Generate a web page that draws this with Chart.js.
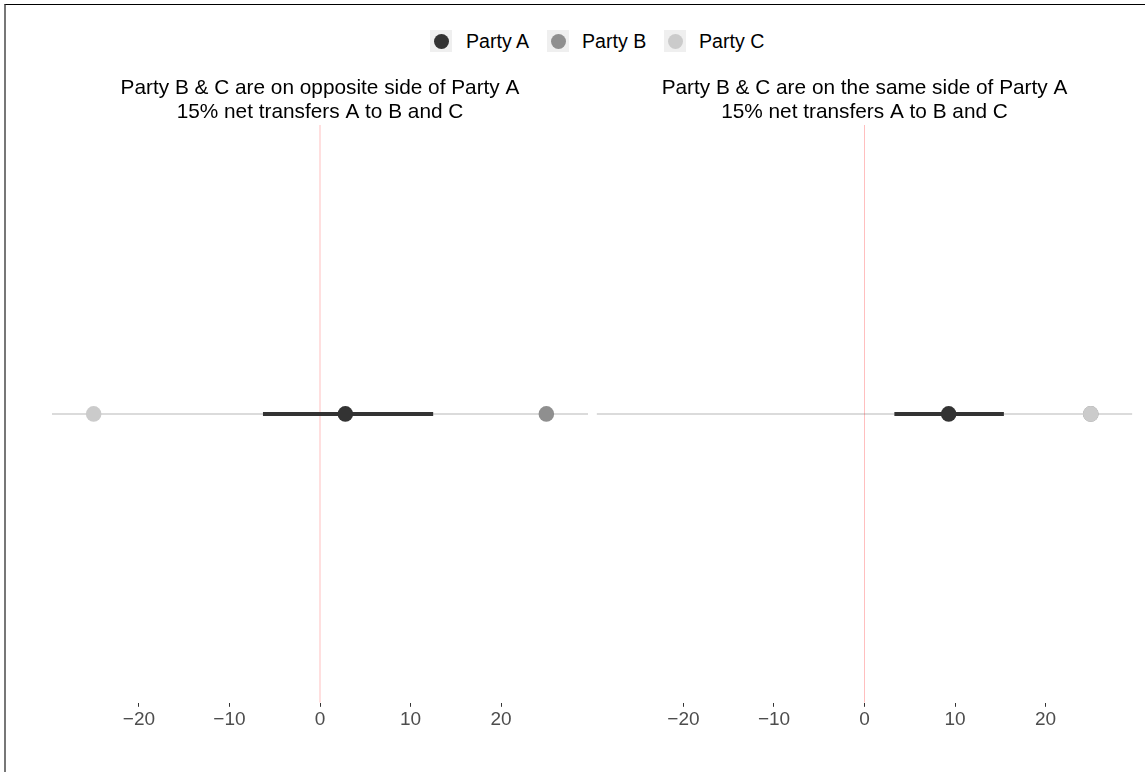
<!DOCTYPE html>
<html>
<head>
<meta charset="utf-8">
<script src="https://cdn.jsdelivr.net/npm/chart.js@4"></script>
<style>
  html, body { margin: 0; padding: 0; background: #fff; }
  body { width: 1145px; height: 772px; position: relative; overflow: hidden;
         font-family: "Liberation Sans", Arial, sans-serif; }
  .frame { position: absolute; left: 4px; top: 4px; right: -10px; bottom: -10px;
           border-top: 1px solid #000; border-left: 2px solid #777; }
  .panel { position: absolute; top: 0; height: 772px; }
  .key { position: absolute; top: 30px; width: 22px; height: 22px; background: #efefef; }
  .key span { position: absolute; left: 3.5px; top: 3.5px; width: 15px; height: 15px; border-radius: 50%; }
  .lab { position: absolute; top: 30px; height: 22px; line-height: 22px; font-size: 19.6px; color: #000; }
</style>
</head>
<body>
<div class="frame"></div>

<div class="key" style="left:430px"><span style="background:#333333"></span></div>
<div class="lab" style="left:466px">Party A</div>
<div class="key" style="left:547px"><span style="background:#8f8f8f"></span></div>
<div class="lab" style="left:582px">Party B</div>
<div class="key" style="left:664px"><span style="background:#cbcbcb"></span></div>
<div class="lab" style="left:699px">Party C</div>

<div class="panel" style="left:0;width:592px"><canvas id="left"></canvas></div>
<div class="panel" style="left:592px;width:553px"><canvas id="right"></canvas></div>

<script>
// data
const xLimits = [-29.6, 29.6]
const tickValues = [-20, -10, 0, 10, 20]
const panelTitles = [
  ['Party B & C are on opposite side of Party A', '15% net transfers A to B and C'],
  ['Party B & C are on the same side of Party A', '15% net transfers A to B and C']
]
const partyA = [2.8, 9.3]
const partyALow = [-6.3, 3.3]
const partyAHigh = [12.5, 15.4]
const partyB = [25, 25]
const partyC = [-25, 25]

const colA = '#333333'
const colB = '#8f8f8f'
const colC = '#cbcbcb'

function makePanel(id, i, pad) {
  const ctx = document.getElementById(id).getContext('2d')
  return new Chart(ctx, {
    type: 'scatter',
    data: {
      datasets: [
        { label: 'Party A', data: [{ x: partyA[i], y: 1 }], backgroundColor: colA, borderWidth: 0, pointRadius: 7.8, order: 0 },
        { label: 'Party C', data: [{ x: partyC[i], y: 1 }], backgroundColor: colC, borderWidth: 0, pointRadius: 7.8, order: 1 },
        { label: 'Party B', data: [{ x: partyB[i], y: 1 }], backgroundColor: colB, borderWidth: 0, pointRadius: 7.8, order: 2 },
        { label: 'range A', data: [{ x: partyALow[i], y: 1 }, { x: partyAHigh[i], y: 1 }],
          showLine: true, borderColor: colA, borderWidth: 4, pointRadius: 0, order: 3 },
        { label: 'zero', data: [{ x: 0, y: 0 }, { x: 0, y: 2 }],
          showLine: true, borderColor: 'rgba(255,0,0,0.25)', borderWidth: 1, pointRadius: 0, order: 4 },
        { label: 'axis', data: [{ x: xLimits[0], y: 1 }, { x: xLimits[1], y: 1 }],
          showLine: true, borderColor: '#cfcfcf', borderWidth: 1.5, pointRadius: 0, order: 5 }
      ]
    },
    options: {
      responsive: true,
      maintainAspectRatio: false,
      animation: false,
      layout: { autoPadding: false, padding: { top: 76.5, bottom: 38.4, left: pad[0], right: pad[1] } },
      plugins: {
        legend: { display: false },
        title: {
          display: true,
          text: panelTitles[i],
          color: '#000',
          font: { family: '"Liberation Sans", Arial, sans-serif', size: 20.8, weight: 'normal', lineHeight: 1.154 },
          padding: { top: 0, bottom: 0.5 }
        },
        tooltip: {
          callbacks: { label: (tt) => `${tt.dataset.label}: ${tt.parsed.x}` }
        }
      },
      scales: {
        x: {
          type: 'linear',
          min: xLimits[0],
          max: xLimits[1],
          afterBuildTicks: (scale) => { scale.ticks = tickValues.map(v => ({ value: v })) },
          border: { display: false },
          grid: { display: true, drawOnChartArea: false, drawTicks: true, tickLength: 4, color: '#333333', lineWidth: 1 },
          ticks: {
            padding: 2,
            color: '#4d4d4d',
            font: { family: '"Liberation Sans", Arial, sans-serif', size: 19 },
            maxRotation: 0,
            callback: (v) => String(v).replace('-', '\u2212')
          }
        },
        y: { display: false, min: 0, max: 2 }
      }
    }
  })
}

document.addEventListener('DOMContentLoaded', () => {
  makePanel('left', 0, [52, 4])
  makePanel('right', 1, [4.6, 12.6])
})
</script>
</body>
</html>
